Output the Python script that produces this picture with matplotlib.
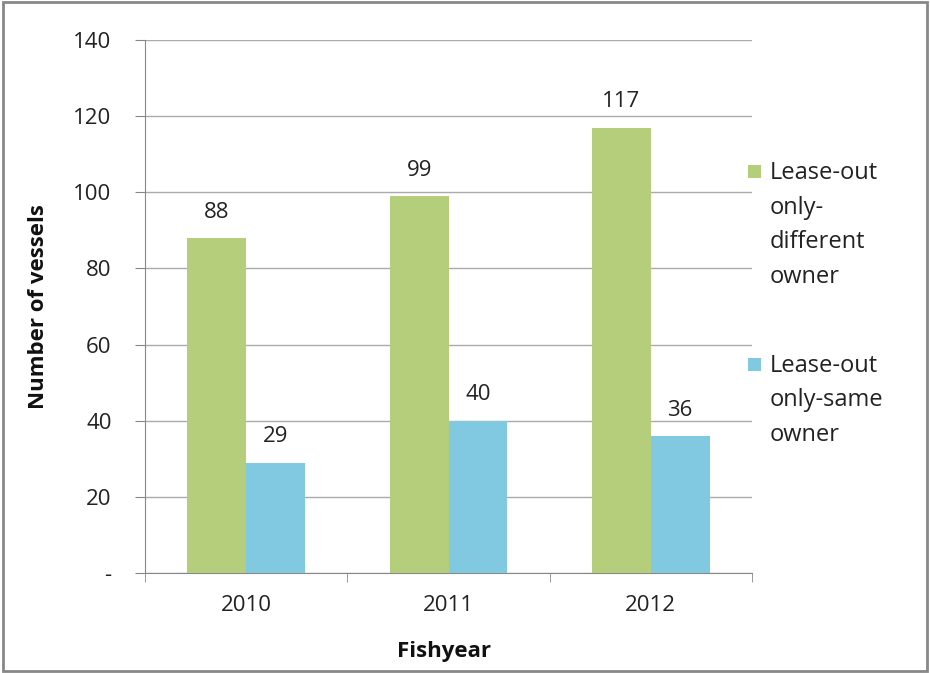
import matplotlib.pyplot as plt
import matplotlib.patches as mpatches
import numpy as np

years = ["2010", "2011", "2012"]
diff_owner = [88, 99, 117]
same_owner = [29, 40, 36]
series_labels = ["Lease-out\nonly-\ndifferent\nowner", "Lease-out\nonly-same\nowner"]
yticks = [0, 20, 40, 60, 80, 100, 120, 140]
ytick_labels = ["-", "20", "40", "60", "80", "100", "120", "140"]

plt.rcParams['font.family'] = ['Open Sans', 'DejaVu Sans']

W, H = 930, 673
fig = plt.figure(figsize=(W / 100, H / 100), dpi=100)
ax = fig.add_axes([145 / W, 1 - 573 / H, (752 - 145) / W, (573 - 40) / H])

x = np.arange(len(years))
w = 0.29
c_green = "#B5CE7C"
c_blue = "#80C9E0"
colors = [c_green, c_blue]
b1 = ax.bar(x - w/2, diff_owner, w, color=c_green, zorder=3)
b2 = ax.bar(x + w/2, same_owner, w, color=c_blue, zorder=3)

for bars, vals in ((b1, diff_owner), (b2, same_owner)):
    for r, v in zip(bars, vals):
        ax.text(r.get_x() + r.get_width()/2, v + 6.8, str(v), ha='center', va='center',
                fontsize=16, color='#222222')

ax.set_xlim(-0.5, 2.5)
ax.set_ylim(0, 140)
ax.set_yticks(yticks)
ax.set_yticklabels(ytick_labels, fontsize=16, color='#222222')
ax.set_xticks(x)
ax.set_xticklabels(years, fontsize=16, color='#222222')
ax.set_xticks([-0.5, 0.5, 1.5, 2.5], minor=True)
ax.tick_params(axis='x', which='major', length=0, pad=16)
ax.tick_params(axis='x', which='minor', length=6.5, color='#888888', direction='out')
ax.tick_params(axis='y', length=7, color='#888888', direction='out', pad=17)
ax.yaxis.grid(True, color='#AAAAAA', linewidth=1, zorder=0)
for s in ['top', 'right']:
    ax.spines[s].set_visible(False)
ax.spines['left'].set_color('#888888')
ax.spines['bottom'].set_color('#888888')

fig.text(38 / W, 1 - 307 / H, "Number of vessels", rotation=90, fontsize=16,
         fontweight='bold', ha='center', va='center', color='#111111')
fig.text(444 / W, 1 - 652 / H, "Fishyear", fontsize=16, fontweight='bold',
         ha='center', va='center', color='#111111')

# legend (manual, Excel style: marker aligned with first line)
entry_first_baseline = [179, 372]
line_step = 34.5
marker_centers = [172, 364]
for lab, col, b0, mc in zip(series_labels, colors, entry_first_baseline, marker_centers):
    fig.patches.append(mpatches.Rectangle(((754 - 6.5) / W, 1 - (mc + 6.5) / H), 13 / W, 13 / H,
                                          transform=fig.transFigure, facecolor=col,
                                          edgecolor='none'))
    for i, line in enumerate(lab.split("\n")):
        fig.text(770 / W, 1 - (b0 + i * line_step) / H, line, fontsize=17,
                 ha='left', va='baseline', color='#222222')

fig.patches.append(mpatches.Rectangle((0.003, 0.003), 0.994, 0.994, transform=fig.transFigure,
                                      fill=False, edgecolor='#888888', linewidth=2))

fig.savefig("out.png", dpi=100)
